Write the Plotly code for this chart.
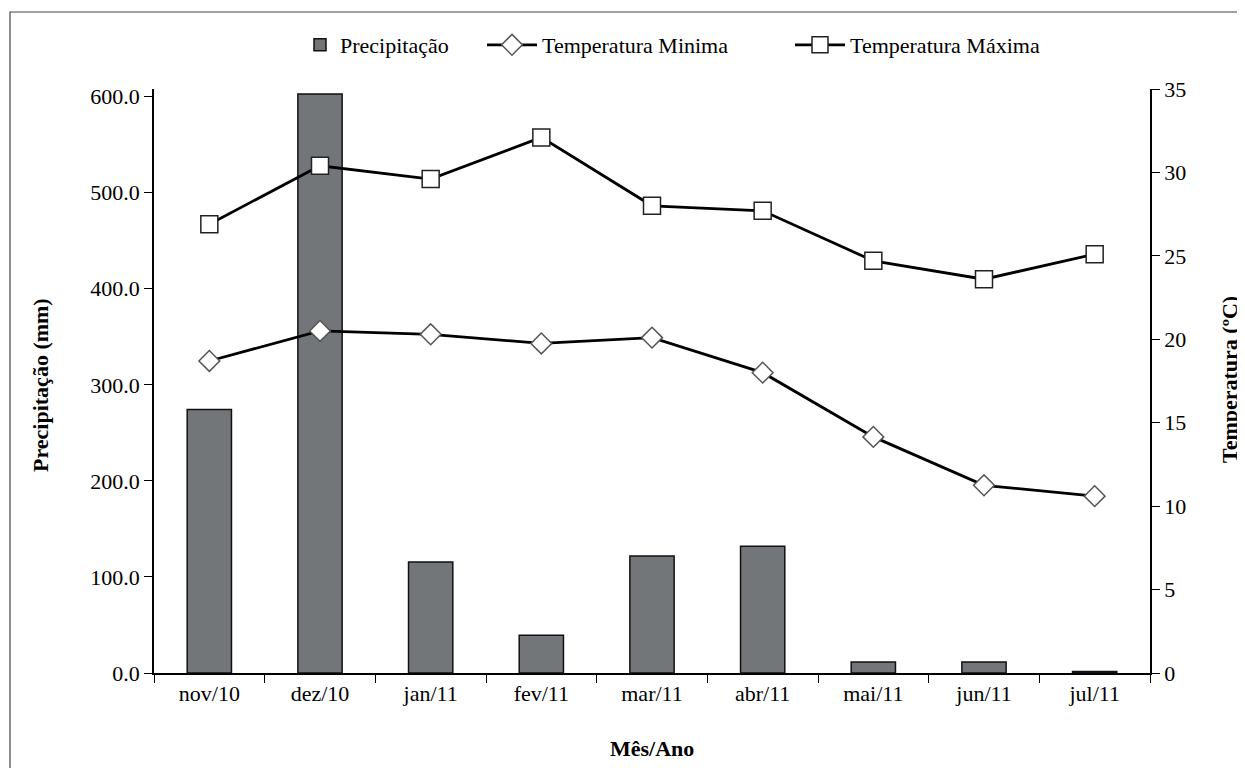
import plotly.graph_objects as go

months = ["nov/10", "dez/10", "jan/11", "fev/11", "mar/11", "abr/11", "mai/11", "jun/11", "jul/11"]
precip = [274.4, 602.8, 115.6, 39.3, 121.9, 132.0, 11.5, 11.5, 1.5]
tmin = [18.7, 20.5, 20.3, 19.75, 20.1, 18.0, 14.15, 11.25, 10.6]
tmax = [26.9, 30.4, 29.6, 32.1, 28.0, 27.7, 24.7, 23.6, 25.1]
precip_ticks = [0, 100, 200, 300, 400, 500, 600]
temp_ticks = [0, 5, 10, 15, 20, 25, 30, 35]

FONT = "Liberation Serif, Times New Roman, serif"
FS = 22

# page body adds an 8px offset; figure sized so that screen positions match reference
OFF = 8
W, H = 1245 - OFF, 768 - OFF
PL, PR, PT, PB = 154, 1150, 89, 673          # plot area in screen pixels
L, T = PL - OFF, PT - OFF
R = W - (PR - OFF)
B = H - (PB - OFF)
pw, ph = PR - PL, PB - PT

def px(xs):
    return (xs - PL) / pw

def py(ys):
    return (PB - ys) / ph

fig = go.Figure()
fig.add_trace(go.Bar(
    x=months, y=precip, name="Precipitação", width=0.4,
    marker=dict(color="#737679", line=dict(color="#111111", width=1.5)),
    yaxis="y", legend="legend",
))
fig.add_trace(go.Scatter(
    x=months, y=tmin, name="Temperatura Minima", mode="lines+markers",
    line=dict(color="#000000", width=2.8),
    marker=dict(symbol="diamond", size=16, color="white", line=dict(color="#555555", width=1.5)),
    yaxis="y2", legend="legend2",
))
fig.add_trace(go.Scatter(
    x=months, y=tmax, name="Temperatura Máxima", mode="lines+markers",
    line=dict(color="#000000", width=2.8),
    marker=dict(symbol="square", size=17, color="white", line=dict(color="#222222", width=1.5)),
    yaxis="y2", legend="legend3",
))

leg_common = dict(orientation="h", yanchor="middle", xanchor="left", y=py(45),
                  font=dict(family=FONT, size=FS), bgcolor="rgba(0,0,0,0)")

axis_common = dict(showline=True, linecolor="#000000", linewidth=1.5, ticks="outside", ticklen=8,
                   tickcolor="#000000", tickwidth=1.2, showgrid=False, zeroline=False,
                   tickfont=dict(family=FONT, size=FS, color="#000000"))

fig.update_layout(
    width=W, height=H, autosize=False,
    margin=dict(l=L, r=R, t=T, b=B),
    paper_bgcolor="white", plot_bgcolor="white",
    font=dict(family=FONT, size=FS, color="#000000"),
    showlegend=True,
    legend=dict(x=px(300), **leg_common),
    legend2=dict(x=px(482), itemwidth=50, **leg_common),
    legend3=dict(x=px(790), itemwidth=50, **leg_common),
    bargap=0.6,
    xaxis=dict(type="category", range=[-0.5, 8.5], tickson="boundaries", **axis_common),
    yaxis=dict(range=[0, 608], tickvals=precip_ticks, tickformat=".1f", **axis_common),
    yaxis2=dict(range=[0, 35], tickvals=temp_ticks, overlaying="y", side="right", **axis_common),
    annotations=[
        dict(text="<b>Precipitação (mm)</b>", xref="paper", yref="paper", x=px(40), y=py(385),
             textangle=-90, showarrow=False, font=dict(family=FONT, size=FS),
             xanchor="center", yanchor="middle"),
        dict(text="<b>Temperatura (ºC)</b>", xref="paper", yref="paper", x=px(1229), y=py(380),
             textangle=-90, showarrow=False, font=dict(family=FONT, size=FS),
             xanchor="center", yanchor="middle"),
        dict(text="<b>Mês/Ano</b>", xref="paper", yref="paper", x=px(652), y=py(748),
             showarrow=False, font=dict(family=FONT, size=FS), xanchor="center", yanchor="middle"),
    ],
    shapes=[
        dict(type="rect", xref="paper", yref="paper", x0=px(10), x1=px(1241), y0=py(775), y1=py(12),
             line=dict(color="#444444", width=1.2), fillcolor="rgba(0,0,0,0)", layer="below"),
    ],
)

fig.write_html("out.html")
